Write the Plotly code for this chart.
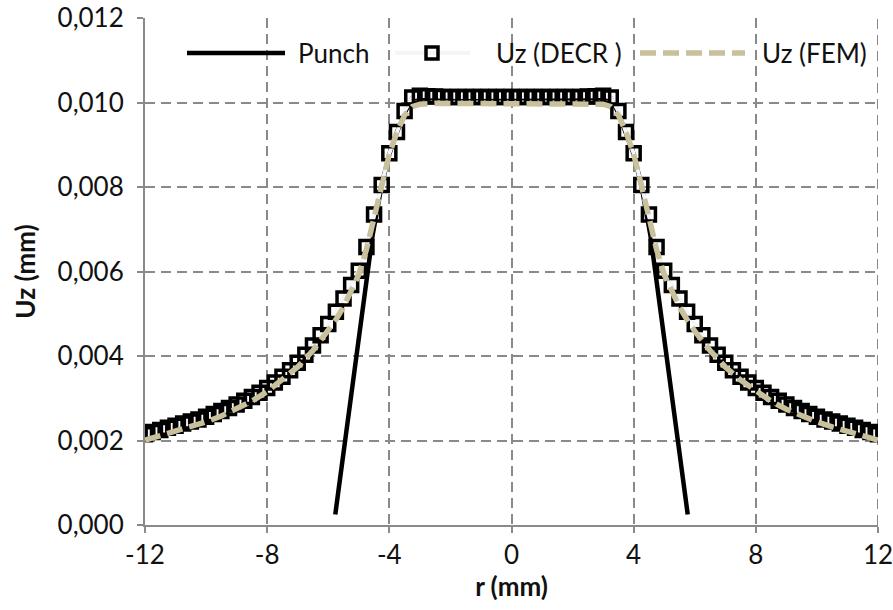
import plotly.graph_objects as go

# ---- data -------------------------------------------------------------
# Uz computed with DECR, right half of the symmetric profile (r = 0 ... 12 mm, step 0.25)
r_decr_half = [0.0, 0.25, 0.5, 0.75, 1.0, 1.25, 1.5, 1.75, 2.0, 2.25, 2.5, 2.75, 3.0,
               3.25, 3.5, 3.75, 4.0, 4.25, 4.5, 4.75, 5.0, 5.25, 5.5, 5.75, 6.0,
               6.25, 6.5, 6.75, 7.0, 7.25, 7.5, 7.75, 8.0, 8.25, 8.5, 8.75, 9.0,
               9.25, 9.5, 9.75, 10.0, 10.25, 10.5, 10.75, 11.0, 11.25, 11.5, 11.75, 12.0]
uz_decr_half = [0.01013, 0.01013, 0.01013, 0.01013, 0.01013, 0.01013, 0.01013, 0.01013,
                0.01013, 0.01013, 0.01014, 0.01015, 0.01016,
                0.01012, 0.00980, 0.00930, 0.00880, 0.00805, 0.00735, 0.00658, 0.00602,
                0.00568, 0.00536, 0.00505, 0.00476, 0.00449, 0.00425, 0.00403, 0.00384,
                0.00366, 0.00351, 0.00337, 0.00324, 0.00313, 0.00303, 0.00294, 0.00285,
                0.00277, 0.00270, 0.00263, 0.00256, 0.00250, 0.00245, 0.00240, 0.00235,
                0.00230, 0.00225, 0.00220, 0.00215]

# Uz from the finite element model, right half
r_fem_half = [0.0, 0.5, 1.0, 1.5, 2.0, 2.5, 3.0, 3.25, 3.5, 3.75, 4.0, 4.25, 4.5, 4.75,
              5.0, 5.25, 5.5, 5.75, 6.0, 6.5, 7.0, 7.5, 8.0, 8.5, 9.0, 9.5, 10.0,
              10.5, 11.0, 11.5, 12.0]
uz_fem_half = [0.00998, 0.00998, 0.00998, 0.00998, 0.00998, 0.00998, 0.00996, 0.00990,
               0.00970, 0.00930, 0.00878, 0.00805, 0.00727, 0.00652, 0.00593, 0.00552,
               0.00516, 0.00486, 0.00459, 0.00413, 0.00374, 0.00343, 0.00316, 0.00293,
               0.00274, 0.00258, 0.00244, 0.00232, 0.00221, 0.00211, 0.00201]

# Punch profile, right half (from the centre out to the edge)
r_punch_half = [0.0, 3.25, 3.5, 3.75, 4.0, 4.25, 4.55, 5.77]
uz_punch_half = [0.01010, 0.01010, 0.00975, 0.00930, 0.00878, 0.00805, 0.00685, 0.00025]


def mirror(r_half, v_half):
    """Full profile from -r_max to r_max out of its right half."""
    r_left = [-r for r in reversed(r_half) if r != 0.0]
    v_left = [v for r, v in zip(reversed(r_half), reversed(v_half)) if r != 0.0]
    return r_left + list(r_half), v_left + list(v_half)


r_decr, uz_decr = mirror(r_decr_half, uz_decr_half)
r_fem, uz_fem = mirror(r_fem_half, uz_fem_half)
r_punch, uz_punch = mirror(r_punch_half, uz_punch_half)

x_ticks = [-12, -8, -4, 0, 4, 8, 12]
y_ticks = [0.000, 0.002, 0.004, 0.006, 0.008, 0.010, 0.012]

# ---- styling ----------------------------------------------------------
FONT = "Lato, Roboto, sans-serif"
GRID = "#8a8a8a"
FEM_COLOR = "#C9C09C"
DECR_LINE = "#F3F5F9"
GRID_DASH = "10px,6px"

fig = go.Figure()

fig.add_trace(go.Scatter(
    x=r_punch, y=uz_punch, mode="lines", name="Punch",
    line=dict(color="black", width=4.5), showlegend=False))

fig.add_trace(go.Scatter(
    x=r_decr, y=uz_decr, mode="lines+markers", name="Uz (DECR )",
    line=dict(color=DECR_LINE, width=4),
    marker=dict(symbol="square-open", size=13, color="black",
                line=dict(color="black", width=3.5)),
    showlegend=False))

fig.add_trace(go.Scatter(
    x=r_fem, y=uz_fem, mode="lines", name="Uz (FEM)",
    line=dict(color=FEM_COLOR, width=5.5, dash="16px,7px"), showlegend=False))

# ---- legend, drawn along the top of the plot area ----------------------
L, R, T, B = 145, 878, 18, 525


def px(xp):
    return (xp - L) / (R - L)


def py(yp):
    return (B - yp) / (B - T)


leg_y = py(53)
shapes = [
    # grid line on the right edge of the plot area (x = 12)
    dict(type="line", xref="x", yref="paper", x0=x_ticks[-1], x1=x_ticks[-1], y0=0, y1=1,
         line=dict(color=GRID, width=2, dash=GRID_DASH), layer="below"),
    dict(type="line", xref="paper", yref="paper", x0=px(187), x1=px(285), y0=leg_y, y1=leg_y,
         line=dict(color="black", width=4.5)),
    dict(type="line", xref="paper", yref="paper", x0=px(395), x1=px(470), y0=leg_y, y1=leg_y,
         line=dict(color=DECR_LINE, width=4)),
    dict(type="rect", xref="paper", yref="paper", x0=px(426), x1=px(438), y0=py(59), y1=py(47),
         line=dict(color="black", width=3.5), fillcolor="rgba(0,0,0,0)"),
    dict(type="line", xref="paper", yref="paper", x0=px(640), x1=px(745), y0=leg_y, y1=leg_y,
         line=dict(color=FEM_COLOR, width=5.5, dash="16px,7px")),
]
annotations = []
for label, xpix in [("Punch", 296), ("Uz (DECR )", 494), ("Uz (FEM)", 760)]:
    annotations.append(dict(
        text=label, xref="paper", yref="paper", x=px(xpix), y=leg_y,
        xanchor="left", yanchor="middle", showarrow=False,
        font=dict(family=FONT, size=26, color="#111")))

fig.update_layout(
    width=893, height=610,
    margin=dict(l=L, r=893 - R, t=T, b=610 - B, autoexpand=False),
    paper_bgcolor="white", plot_bgcolor="white",
    separators=", ",
    font=dict(family=FONT, size=26, color="#111"),
    shapes=shapes, annotations=annotations,
    showlegend=False,
)

axis_common = dict(
    showline=True, linecolor=GRID, linewidth=2,
    showgrid=True, gridcolor=GRID, gridwidth=2, griddash=GRID_DASH,
    ticks="outside", ticklen=6, tickwidth=2, tickcolor=GRID,
    zeroline=False, automargin=False, ticklabeloverflow="allow",
    tickfont=dict(family=FONT, size=26, color="#111"),
)

fig.update_xaxes(
    range=[-12.0005, 12.0005], tickmode="array", tickvals=x_ticks,
    ticktext=[str(v) for v in x_ticks],
    title=dict(text="<b>r (mm)</b>", standoff=7, font=dict(family=FONT, size=26, color="#111")),
    **axis_common)

fig.update_yaxes(
    range=[0, 0.0120005], tickmode="array", tickvals=y_ticks,
    tickformat=".3f", ticklabelstandoff=8,
    title=dict(text="<b>Uz (mm)</b>", standoff=14, font=dict(family=FONT, size=26, color="#111")),
    **axis_common)

fig.write_html("out.html")
